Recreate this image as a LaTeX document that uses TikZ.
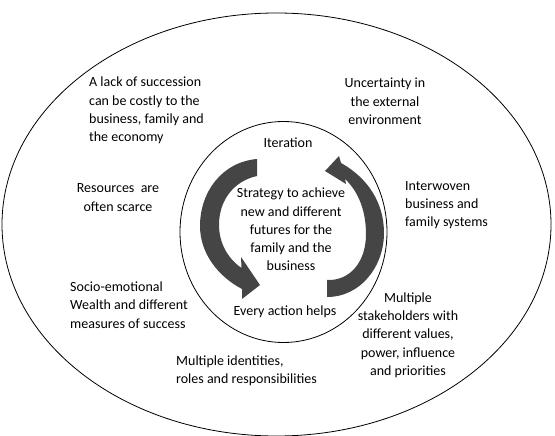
\documentclass[tikz,border=0pt]{standalone}
\usepackage{fontspec}
\setmainfont{Carlito}
\begin{document}
\begin{tikzpicture}[x=1pt,y=-1pt,
  lbl/.style={inner sep=0pt, font=\fontsize{14}{18.3}\selectfont},
  ring/.style={draw=black, line width=0.8pt},
  cyclearrow/.style={fill=black!73, draw=none}]
\useasboundingbox (0,0) rectangle (555,436);
% outer and inner ellipses
\coordinate (oc) at (276.5,224.5);
\coordinate (ic) at (283.5,232);
\draw[ring] (oc) ellipse [x radius=274.5, y radius=211.5];
\draw[ring] (ic) ellipse [x radius=103.5, y radius=110.5];
% left curved arrow (top to bottom)
\fill[cyclearrow] (257,159) .. controls (222,162) and (200,192) .. (200,226)
  .. controls (200,254) and (219,277) .. (242,289)
  -- (242,299) -- (260,285) -- (241,257) -- (241.5,268)
  .. controls (227,258) and (219,242) .. (219,225)
  .. controls (219,200) and (234,181) .. (257,176) -- cycle;
% right curved arrow (bottom to top)
\fill[cyclearrow] (327,280) -- (327,297) .. controls (361,297) and (384,266) .. (384,233)
  .. controls (384,203) and (368,178) .. (341,163)
  -- (339,156) -- (325,171) -- (346,184) -- (345,179)
  .. controls (359,192) and (366,212) .. (366,234)
  .. controls (366,262) and (350,281) .. (327,280) -- cycle;
% texts
\node[lbl, anchor=west, align=left] (succ) at (89,110.5) {A lack of succession\\can be costly to the\\business, family and\\the economy};
\node[lbl, align=center] (unc) at (385,101.5) {Uncertainty in\\the external\\environment};
\node[lbl] (iter) at (288,143) {Iteration};
\node[lbl, align=center] (res) at (118,197.5) {Resources~~are\\often scarce};
\node[lbl, align=center] (strat) at (291,229.5) {Strategy to achieve\\new and different\\futures for the\\family and the\\business};
\node[lbl, anchor=west, align=left] (inter) at (405,205) {Interwoven\\business and\\family systems};
\node[lbl, anchor=west, align=left] (socio) at (70,305) {Socio-emotional\\Wealth and different\\measures of success};
\node[lbl] (every) at (285,312) {Every action helps};
\node[lbl, align=center] (stake) at (408,335) {Multiple\\stakeholders with\\different values,\\power, influence\\and priorities};
\node[lbl, anchor=west, align=left] (ident) at (176,371) {Multiple identities,\\roles and responsibilities};
\end{tikzpicture}
\end{document}
